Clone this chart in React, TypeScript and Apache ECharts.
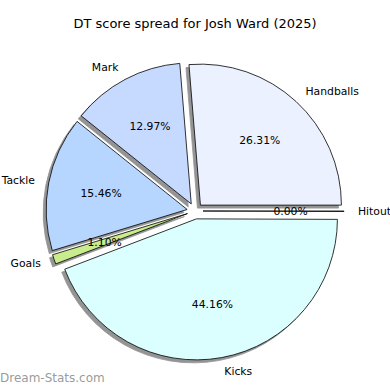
import React, { useEffect, useRef } from "react";
import * as echarts from "echarts";

const categories = ["Handballs", "Mark", "Tackle", "Goals", "Kicks", "Hitout"];
const percentages = [26.31, 12.97, 15.46, 1.1, 44.16, 0.0];
const colors = ["#ebf1ff", "#c6d9ff", "#b6d6ff", "#c8ec8e", "#dbffff", "#ffffff"];
const titleText = "DT score spread for Josh Ward (2025)";
const watermark = "Dream-Stats.com";

const FONT = "DejaVu Sans";

export default function App() {
  const ref = useRef<HTMLDivElement>(null);
  useEffect(() => {
    document.body.style.margin = "0";
    const chart = echarts.init(ref.current!, null, { renderer: "svg" });
    const cx = 195;
    const cy = 211;
    const r = 141;
    const offset = 8;
    const sliceStyle = (i: number) => ({
      color: colors[i],
      borderColor: "#000",
      borderWidth: 0.8,
      shadowColor: "rgba(0,0,0,0.42)",
      shadowBlur: 0,
      shadowOffsetX: -3,
      shadowOffsetY: 3,
    });
    chart.setOption({
      animation: false,
      title: {
        text: titleText,
        left: "center",
        top: 17,
        padding: 0,
        textStyle: { fontFamily: FONT, fontSize: 13, fontWeight: "normal", color: "#000" },
      },
      graphic: [
        {
          type: "text",
          left: 0,
          top: 372,
          style: {
            text: watermark,
            fontFamily: FONT,
            fontSize: 12,
            fill: "rgba(128,128,128,0.8)",
          },
        },
      ],
      series: [
        {
          type: "pie",
          center: [cx, cy],
          radius: [0, r],
          startAngle: 0,
          clockwise: false,
          minAngle: 0.2,
          avoidLabelOverlap: false,
          selectedMode: "multiple",
          selectedOffset: offset,
          label: {
            show: true,
            position: "outside",
            fontFamily: FONT,
            fontSize: 10.8,
            color: "#000",
            distanceToLabelLine: 0,
            formatter: (p: any) => p.name,
          },
          labelLine: { show: false, length: 14, length2: 0 },
          emphasis: { disabled: true },
          data: categories.map((name, i) => ({
            name,
            value: percentages[i],
            selected: true,
            itemStyle: sliceStyle(i),
            select: { itemStyle: sliceStyle(i) },
          })),
        },
        {
          type: "pie",
          center: [cx, cy],
          radius: [0, r * 1.2],
          startAngle: 0,
          clockwise: false,
          silent: true,
          avoidLabelOverlap: false,
          selectedMode: "multiple",
          selectedOffset: offset,
          label: {
            show: true,
            position: "inside",
            fontFamily: FONT,
            fontSize: 10.8,
            color: "#000",
            formatter: (p: any) => percentages[p.dataIndex].toFixed(2) + "%",
          },
          labelLine: { show: false },
          emphasis: { disabled: true },
          data: categories.map((name, i) => ({
            name,
            value: percentages[i],
            selected: true,
            itemStyle: { color: "rgba(0,0,0,0)", borderWidth: 0 },
            select: { itemStyle: { color: "rgba(0,0,0,0)", borderWidth: 0 } },
          })),
        },
      ],
    });
    return () => chart.dispose();
  }, []);
  return <div ref={ref} style={{ width: 390, height: 390 }} />;
}
